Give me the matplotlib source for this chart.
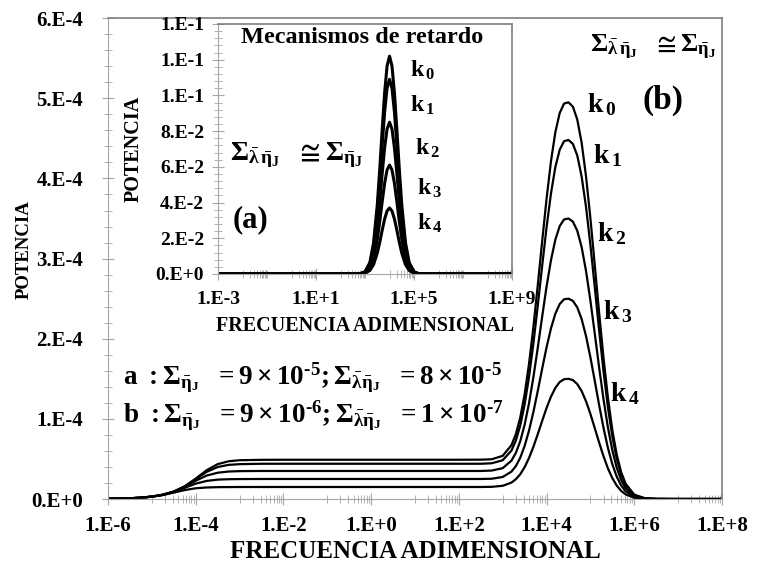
import matplotlib
matplotlib.use("Agg")
import matplotlib.pyplot as plt
from matplotlib.ticker import FixedLocator, MultipleLocator, NullFormatter

plt.rcParams['font.family'] = ['Liberation Serif', 'DejaVu Serif']
plt.rcParams['font.weight'] = 'bold'
plt.rcParams['mathtext.fontset'] = 'custom'
plt.rcParams['mathtext.rm'] = 'Liberation Serif:bold'
plt.rcParams['mathtext.it'] = 'Liberation Serif:bold'
plt.rcParams['mathtext.bf'] = 'Liberation Serif:bold'
plt.rcParams['mathtext.sf'] = 'Liberation Serif'
plt.rcParams['mathtext.default'] = 'rm'
plt.rcParams['mathtext.fallback'] = 'stix'

# main chart (b): log10 of the dimensionless frequency, power in units of 1e-4
main_logf = [-6, -5.5, -5.25, -5, -4.75, -4.5, -4.25, -4, -3.75, -3.5, -3.25, -3, -2.5, -2, 0, 2,
             2.5, 2.75, 3.0, 3.2, 3.3, 3.4, 3.5, 3.6, 3.7, 3.8, 3.9, 4.0, 4.1, 4.2, 4.3, 4.4, 4.5,
             4.6, 4.7, 4.8, 4.9, 5.0, 5.1, 5.2, 5.3, 5.4, 5.5, 5.6, 5.7, 5.8, 6.0, 6.25, 6.5, 7, 8]
pot_k0 = [0.003, 0.009, 0.017, 0.030, 0.053, 0.093, 0.159, 0.255, 0.360, 0.435, 0.471, 0.484, 0.489, 0.490, 0.490, 0.490,
          0.491, 0.496, 0.539, 0.672, 0.809, 1.016, 1.306, 1.685, 2.146, 2.668, 3.215, 3.744, 4.210, 4.575, 4.817, 4.935, 4.950,
          4.897, 4.737, 4.447, 4.028, 3.504, 2.918, 2.319, 1.756, 1.263, 0.861, 0.555, 0.338, 0.194, 0.054, 0.008, 0.001, 0, 0]
pot_k1 = [0.003, 0.009, 0.017, 0.030, 0.053, 0.093, 0.157, 0.248, 0.339, 0.399, 0.426, 0.435, 0.440, 0.440, 0.440, 0.440,
          0.440, 0.446, 0.484, 0.605, 0.729, 0.916, 1.179, 1.522, 1.940, 2.413, 2.909, 3.388, 3.809, 4.140, 4.359, 4.466, 4.480,
          4.432, 4.288, 4.025, 3.646, 3.172, 2.642, 2.100, 1.589, 1.143, 0.779, 0.503, 0.306, 0.176, 0.049, 0.007, 0.001, 0, 0]
pot_k2 = [0.003, 0.009, 0.017, 0.030, 0.053, 0.091, 0.152, 0.228, 0.293, 0.328, 0.343, 0.348, 0.350, 0.350, 0.350, 0.350,
          0.350, 0.355, 0.385, 0.479, 0.576, 0.721, 0.926, 1.194, 1.520, 1.888, 2.275, 2.649, 2.977, 3.235, 3.406, 3.489, 3.500,
          3.462, 3.349, 3.144, 2.847, 2.477, 2.063, 1.639, 1.241, 0.892, 0.608, 0.392, 0.239, 0.137, 0.038, 0.006, 0.001, 0, 0]
pot_k3 = [0.003, 0.009, 0.017, 0.030, 0.052, 0.089, 0.140, 0.192, 0.226, 0.242, 0.247, 0.249, 0.250, 0.250, 0.250, 0.250,
          0.250, 0.253, 0.275, 0.342, 0.411, 0.515, 0.662, 0.853, 1.086, 1.349, 1.625, 1.892, 2.127, 2.311, 2.433, 2.493, 2.500,
          2.473, 2.392, 2.246, 2.034, 1.769, 1.473, 1.171, 0.886, 0.637, 0.435, 0.280, 0.171, 0.098, 0.027, 0.004, 0.001, 0, 0]
pot_k4 = [0.003, 0.009, 0.017, 0.029, 0.050, 0.080, 0.112, 0.134, 0.144, 0.148, 0.149, 0.150, 0.150, 0.150, 0.150, 0.150,
          0.150, 0.152, 0.165, 0.205, 0.247, 0.309, 0.397, 0.512, 0.651, 0.809, 0.975, 1.135, 1.276, 1.386, 1.460, 1.495, 1.500,
          1.484, 1.435, 1.347, 1.220, 1.062, 0.884, 0.703, 0.532, 0.382, 0.261, 0.168, 0.102, 0.059, 0.016, 0.003, 0.000, 0, 0]

# inset (a): retardation mechanisms
ins_logf = [-3, 0, 2, 2.5, 2.8, 3.0, 3.2, 3.35, 3.5, 3.6, 3.7, 3.8, 3.9, 4.0, 4.1, 4.2, 4.3, 4.4, 4.5,
            4.65, 4.8, 5.0, 5.2, 5.5, 6, 9]
ins_k0 = [0, 0, 0, 0, 0.0001, 0.0012, 0.0065, 0.0176, 0.0387, 0.0585, 0.0807, 0.1015, 0.1165, 0.1220,
          0.1165, 0.1015, 0.0807, 0.0585, 0.0387, 0.0176, 0.0065, 0.0012, 0.0001, 0, 0, 0]
ins_k1 = [0, 0, 0, 0, 0.0001, 0.0011, 0.0058, 0.0157, 0.0346, 0.0523, 0.0721, 0.0907, 0.1041, 0.1090,
          0.1041, 0.0907, 0.0721, 0.0523, 0.0346, 0.0157, 0.0058, 0.0011, 0.0001, 0, 0, 0]
ins_k2 = [0, 0, 0, 0, 0.0001, 0.0009, 0.0045, 0.0122, 0.0270, 0.0408, 0.0562, 0.0707, 0.0812, 0.0850,
          0.0812, 0.0707, 0.0562, 0.0408, 0.0270, 0.0122, 0.0045, 0.0009, 0.0001, 0, 0, 0]
ins_k3 = [0, 0, 0, 0, 0.0001, 0.0006, 0.0032, 0.0088, 0.0194, 0.0293, 0.0404, 0.0508, 0.0583, 0.0610,
          0.0583, 0.0508, 0.0404, 0.0293, 0.0194, 0.0088, 0.0032, 0.0006, 0.0001, 0, 0, 0]
ins_k4 = [0, 0, 0, 0, 0, 0.0004, 0.0020, 0.0053, 0.0117, 0.0177, 0.0245, 0.0308, 0.0353, 0.0370,
          0.0353, 0.0308, 0.0245, 0.0177, 0.0117, 0.0053, 0.0020, 0.0004, 0, 0, 0, 0]

main_xticks = ['1.E-6', '1.E-4', '1.E-2', '1.E+0', '1.E+2', '1.E+4', '1.E+6', '1.E+8']
main_yticks = ['0.E+0', '1.E-4', '2.E-4', '3.E-4', '4.E-4', '5.E-4', '6.E-4']
ins_xticks = ['1.E-3', '1.E+1', '1.E+5', '1.E+9']
ins_yticks = ['0.E+0', '2.E-2', '4.E-2', '6.E-2', '8.E-2', '1.E-1', '1.E-1', '1.E-1']
k_names = ['0', '1', '2', '3', '4']

sig_eq = r'$\Sigma_{\bar{\lambda}\,\bar{\eta}_J}\ \ \cong\Sigma_{\bar{\eta}_J}$'
line_a = r'$a\ :\Sigma_{\bar{\eta}_J}\ \ =9\times10^{\text{-}5};\Sigma_{\bar{\lambda}\bar{\eta}_J}\ \ =8\times10^{\text{-}5}$'
line_b = r'$b\ :\Sigma_{\bar{\eta}_J}\ \ =9\times10^{\text{-}6};\Sigma_{\bar{\lambda}\bar{\eta}_J}\ \ =1\times10^{\text{-}7}$'

light = '#a6a6a6'
dark = '#7f7f7f'


def style_axes(ax, tick_size):
    for s in ['left', 'bottom']:
        ax.spines[s].set_color(light)
    for s in ['top', 'right']:
        ax.spines[s].set_color(dark)
        ax.spines[s].set_linewidth(1.2)
    ax.tick_params(which='both', direction='inout', color=light, labelsize=tick_size)
    ax.tick_params(which='major', length=8)
    ax.tick_params(which='minor', length=6)
    ax.tick_params(top=False, right=False, which='both')


fig = plt.figure(figsize=(7.57, 5.67), dpi=100)

# main axes
ax = fig.add_axes([0.1427, 0.1199, 0.811, 0.848])
freq = [10.0 ** e for e in main_logf]
for pot in [pot_k0, pot_k1, pot_k2, pot_k3, pot_k4]:
    ax.plot(freq, [v * 1e-4 for v in pot], color='black', lw=1.6)
ax.set_xscale('log')
ax.set_xlim(1e-6, 1e8)
ax.set_ylim(0, 6e-4)
ax.xaxis.set_major_locator(FixedLocator([10.0 ** e for e in range(-6, 9, 2)]))
ax.xaxis.set_minor_locator(FixedLocator([k * 10.0 ** e for e in range(-5, 8, 2) for k in range(1, 10)]))
ax.xaxis.set_minor_formatter(NullFormatter())
ax.set_xticklabels(main_xticks)
ax.set_yticks([i * 1e-4 for i in range(7)])
ax.set_yticklabels(main_yticks)
ax.yaxis.set_minor_locator(MultipleLocator(2e-5))
style_axes(ax, 15)
ax.tick_params(axis='x', pad=8)
ax.tick_params(axis='y', pad=14)
ax.set_xlabel('FRECUENCIA ADIMENSIONAL', fontsize=18, fontweight='bold')
ax.xaxis.set_label_coords(0.5, -0.085)
ax.set_ylabel('POTENCIA', fontsize=13.5, fontweight='bold')
ax.yaxis.set_label_coords(-0.122, 0.518)

k_pos = [(0.780, 0.820), (0.790, 0.715), (0.796, 0.551), (0.806, 0.389), (0.817, 0.220)]
for name, (kx, ky) in zip(k_names, k_pos):
    ax.text(kx, ky, r'$k_{\,\mathsf{%s}}$' % name, transform=ax.transAxes, fontsize=20, va='center')
ax.text(0.785, 0.94, sig_eq, transform=ax.transAxes, fontsize=19, va='center')
ax.text(0.904, 0.83, '(b)', transform=ax.transAxes, fontsize=24, va='center', ha='center')
ax.text(0.024, 0.252, line_a, transform=ax.transAxes, fontsize=19.5, va='center')
ax.text(0.024, 0.173, line_b, transform=ax.transAxes, fontsize=19.5, va='center')

# inset axes
ins = fig.add_axes([0.288, 0.5168, 0.3884, 0.4409])
ins_freq = [10.0 ** e for e in ins_logf]
for pot in [ins_k0, ins_k1, ins_k2, ins_k3, ins_k4]:
    ins.plot(ins_freq, pot, color='black', lw=2.2)
ins.set_xscale('log')
ins.set_xlim(1e-3, 1e9)
ins.set_ylim(0, 0.14)
ins.xaxis.set_major_locator(FixedLocator([1e-3, 1e1, 1e5, 1e9]))
ins.xaxis.set_minor_locator(FixedLocator([k * 10.0 ** e for e in range(-2, 9, 2) for k in range(1, 11)]))
ins.xaxis.set_minor_formatter(NullFormatter())
ins.set_xticklabels(ins_xticks)
ins.set_yticks([i * 0.02 for i in range(8)])
ins.set_yticklabels(ins_yticks)
ins.yaxis.set_minor_locator(MultipleLocator(0.004))
style_axes(ins, 14)
ins.tick_params(axis='x', pad=8)
ins.tick_params(axis='y', pad=6)
ins.set_xlabel('FRECUENCIA ADIMENSIONAL', fontsize=14.5, fontweight='bold')
ins.xaxis.set_label_coords(0.5, -0.17)
ins.set_ylabel('POTENCIA', fontsize=14.5, fontweight='bold')
ins.yaxis.set_label_coords(-0.252, 0.5)
ins.text(0.49, 0.944, 'Mecanismos de retardo', transform=ins.transAxes, fontsize=17.5, ha='center', va='center')
ins.text(0.04, 0.476, sig_eq, transform=ins.transAxes, fontsize=20, va='center')
ins.text(0.112, 0.216, '(a)', transform=ins.transAxes, fontsize=22, ha='center', va='center')
ik_pos = [(0.653, 0.816), (0.653, 0.676), (0.670, 0.504), (0.677, 0.344), (0.677, 0.204)]
for name, (kx, ky) in zip(k_names, ik_pos):
    ins.text(kx, ky, r'$k_{\,\mathsf{%s}}$' % name, transform=ins.transAxes, fontsize=17, va='center')

fig.savefig('out.png', dpi=100)
